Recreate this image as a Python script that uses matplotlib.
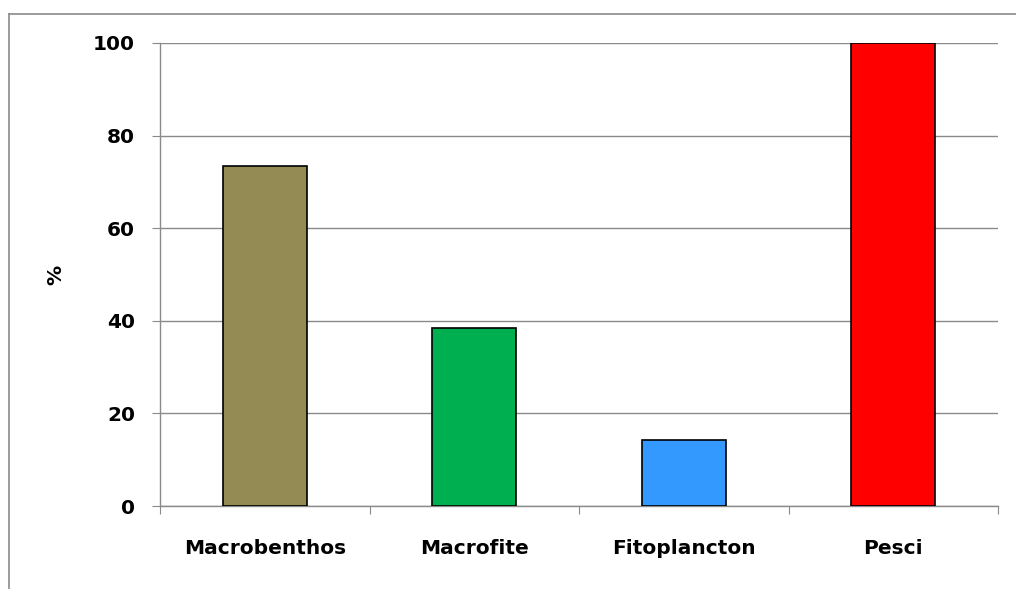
import matplotlib
matplotlib.use("Agg")
import matplotlib.pyplot as plt
from matplotlib.lines import Line2D

categories = ["Macrobenthos", "Macrofite", "Fitoplancton", "Pesci"]
values = [73.4, 38.4, 14.3, 100.0]
colors = ["#948A54", "#00B050", "#3399FF", "#FF0000"]
yticks = [0, 20, 40, 60, 80, 100]

plt.rcParams["font.family"] = ["DejaVu Sans"]

fig = plt.figure(figsize=(10.16, 5.89), dpi=100)
ax = fig.add_axes([160 / 1016, 1 - 506 / 589, (998 - 160) / 1016, (506 - 43) / 589])

x = list(range(len(categories)))
ax.bar(x, values, width=0.4, color=colors, edgecolor="black", linewidth=1.2, zorder=3)

ax.set_xlim(-0.5, len(categories) - 0.5)
ax.set_ylim(0, 100)
ax.set_yticks(yticks)
ax.set_yticklabels([str(t) for t in yticks], fontsize=14.5, fontweight="bold")
ax.yaxis.grid(True, color="#8a8a8a", linewidth=1.0, zorder=0)

# category labels centred under bars, tick marks on category boundaries
ax.set_xticks([i - 0.5 for i in range(len(categories) + 1)])
ax.set_xticklabels([])
ax.set_xticks(x, minor=True)
ax.set_xticklabels(categories, minor=True, fontsize=14.5, fontweight="bold")
ax.tick_params(axis="x", which="minor", length=0, pad=24)
ax.tick_params(axis="x", which="major", length=6, color="#8a8a8a", direction="out")
ax.tick_params(axis="y", length=6, color="#8a8a8a", direction="out", pad=12)

for side in ("top", "right"):
    ax.spines[side].set_visible(False)
for side in ("left", "bottom"):
    ax.spines[side].set_color("#8a8a8a")
    ax.spines[side].set_linewidth(1.0)

ax.set_ylabel("%", fontsize=14.5, fontweight="bold", labelpad=20)

# outer chart border
fig.add_artist(Line2D([9 / 1016, 9 / 1016], [0, 1 - 14 / 589], color="#8a8a8a", linewidth=1.2))
fig.add_artist(Line2D([9 / 1016, 1], [1 - 14 / 589, 1 - 14 / 589], color="#8a8a8a", linewidth=1.2))

fig.savefig("out.png", dpi=100)
